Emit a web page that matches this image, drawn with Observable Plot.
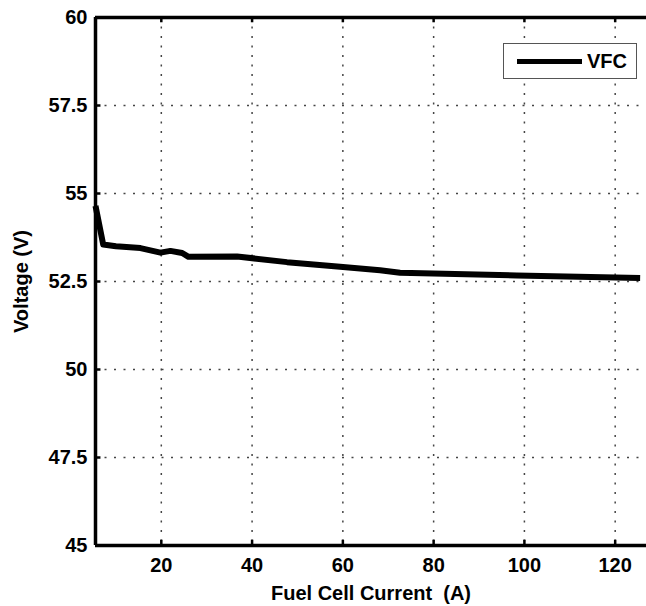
<!DOCTYPE html>
<html><head><meta charset="utf-8">
<script src="https://cdn.jsdelivr.net/npm/d3@7"></script>
<script src="https://cdn.jsdelivr.net/npm/@observablehq/plot@0.6"></script>
<style>
body{margin:0;background:#fff;}
#wrap{position:relative;width:646px;height:606px;overflow:hidden;}
#legend{position:absolute;left:503px;top:43px;width:134px;height:36px;border:1px solid #555;background:#fff;box-sizing:border-box;
font-family:"Liberation Sans",Arial,sans-serif;font-weight:bold;font-size:20px;}
#legend .sw{position:absolute;left:13px;top:15px;width:65px;height:5px;background:#000;}
#legend .tx{position:absolute;left:83px;top:5px;line-height:24px;}
</style>
</head><body><div id="wrap"><div id="legend"><div class="sw"></div><div class="tx">VFC</div></div></div>
<script>
const current = [5.5, 7.2, 10, 15.4, 19.8, 22, 24.6, 26, 36.7, 47.7, 59.4, 68.2, 72.6, 98.3, 125.5];
const voltage = [54.65, 53.55, 53.5, 53.45, 53.32, 53.37, 53.31, 53.2, 53.21, 53.05, 52.92, 52.82, 52.75, 52.67, 52.6];
const xTicks = [20, 40, 60, 80, 100, 120];
const yTicks = [45, 47.5, 50, 52.5, 55, 57.5, 60];
const yTickLabels = ["45", "47.5", "50", "52.5", "55", "57.5", "60"];
const xDomain = [5.5, 126.9];
const yDomain = [45, 60];

const data = current.map((c, i) => ({current: c, voltage: voltage[i]}));
const gridStyle = {stroke: "#444", strokeOpacity: 1, strokeDasharray: "2,7.5", strokeWidth: 1.5};

const chart = Plot.plot({
  width: 646, height: 606,
  marginLeft: 95, marginRight: 0, marginTop: 17, marginBottom: 61,
  style: {fontFamily: "'Liberation Sans', Arial, sans-serif", fontSize: "20px", fontWeight: "bold", color: "#000", background: "#fff", overflow: "visible"},
  x: {domain: xDomain},
  y: {domain: yDomain},
  marks: [
    Plot.gridX(xTicks, gridStyle),
    Plot.gridY(yTicks, gridStyle),
    Plot.axisX(xTicks, {tickSize: 0, tickPadding: 12, label: "Fuel Cell Current\u00a0 (A)", labelAnchor: "center", labelArrow: "none", labelOffset: 54}),
    Plot.axisY(yTicks, {tickSize: 0, tickPadding: 8, tickFormat: d => yTickLabels[yTicks.indexOf(d)], label: "Voltage (V)", labelAnchor: "center", labelArrow: "none", labelOffset: 82}),
    Plot.ruleX(xTicks, {y1: yDomain[1], y2: yDomain[1] - 0.15, strokeWidth: 2.5}),
    Plot.ruleX(xTicks, {y1: yDomain[0], y2: yDomain[0] + 0.15, strokeWidth: 2.5}),
    Plot.ruleY(yTicks, {x1: xDomain[0], x2: xDomain[0] + 1.2, strokeWidth: 2.5}),
    Plot.ruleY([yDomain[1]], {strokeWidth: 3.5}),
    Plot.ruleY([yDomain[0]], {strokeWidth: 3.5}),
    Plot.ruleX([xDomain[0]], {strokeWidth: 3.5}),
    Plot.line(data, {x: "current", y: "voltage", strokeWidth: 6, strokeLinejoin: "round", strokeLinecap: "butt"})
  ]
});
document.getElementById("wrap").prepend(chart);
</script>
</body></html>
